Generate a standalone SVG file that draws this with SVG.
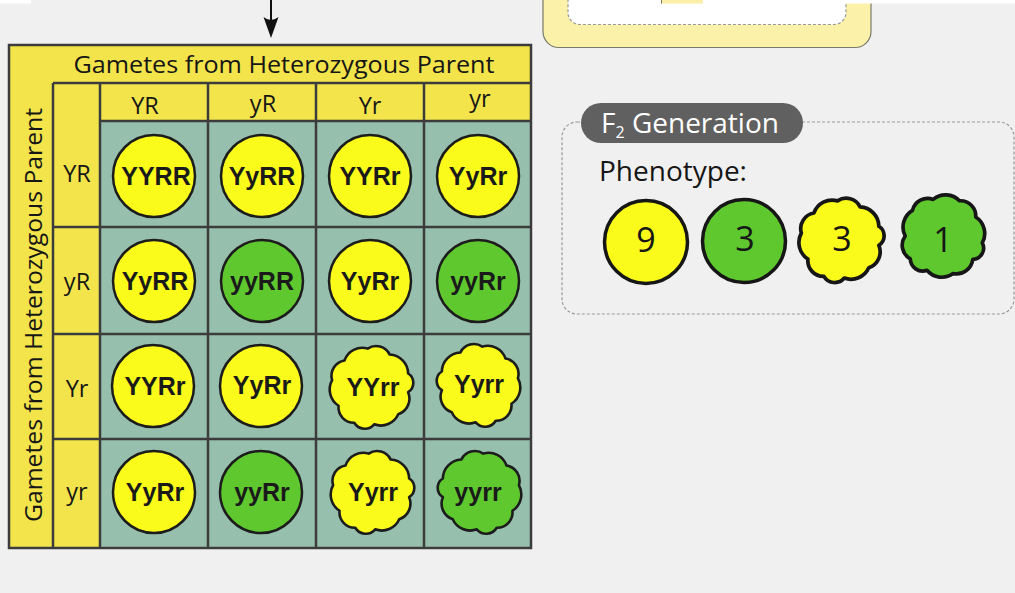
<svg xmlns="http://www.w3.org/2000/svg" xmlns:xlink="http://www.w3.org/1999/xlink" width="1015" height="593" viewBox="0 0 1015 593">
  <style>
    .bg{fill:#f0f0f0}
    .hdr{fill:#f2e44a}
    .teal{fill:#97bfad}
    .ln{stroke:#3c3c3c;stroke-width:2.5;fill:none}
    .pea{stroke:#1c1c1c;stroke-width:2.5;stroke-linejoin:round}
    .pheno{stroke:#161616;stroke-width:3.5;stroke-linejoin:round}
    .y{fill:#fbfb1b}
    .g{fill:#5fc82f}
    .geno{font-family:"Liberation Sans",Arial,sans-serif;font-weight:bold;font-size:25px;text-anchor:middle;fill:#1a1a1a}
    .lbl{font-family:"Open Sans","Noto Sans",sans-serif;font-size:23.5px;text-anchor:middle;fill:#161616}
    .title{font-family:"Open Sans","Noto Sans",sans-serif;font-size:24px;fill:#161616}
    .num{font-family:"Open Sans","Noto Sans",sans-serif;font-size:34px;text-anchor:middle;fill:#161616}
    .f2{font-family:"Open Sans","Noto Sans",sans-serif;font-size:28px}
  </style>
  <defs>
    <!-- wrinkled pea outline, centred on 0,0 -->
    <path id="wrinkle" d="M-3.2,-36.9 A14.6,14.6 0 0 1 18,-31.2 A18.6,18.6 0 0 1 35.7,-13 A10.6,10.6 0 0 1 35.7,5 A15.9,15.9 0 0 1 26.2,26.2 A18.3,18.3 0 0 1 3.1,35.9 A11.8,11.8 0 0 1 -16.1,34.4 A14.9,14.9 0 0 1 -31.2,18 A18.6,18.6 0 0 1 -37.4,-6.6 A14.9,14.9 0 0 1 -25.5,-25.5 A18.1,18.1 0 0 1 -3.2,-36.9 Z"/>
  </defs>

  <rect class="bg" x="0" y="0" width="1015" height="593"/>

  <!-- upper panel, cut by the top edge -->
  <g id="upper-panel">
    <rect x="543" y="-30" width="328" height="77.5" rx="16" fill="#fcf1a9" stroke="#7a7a6a" stroke-width="1.2"/>
    <rect x="568" y="-30" width="278" height="54.5" rx="12" fill="#ffffff" stroke="#9a9a9a" stroke-width="1.2" stroke-dasharray="3 2"/>
    <rect x="661" y="0" width="42" height="3.5" fill="#fbeea6"/>
    <line x1="661.5" y1="0" x2="661.5" y2="3.5" stroke="#7a7a6a" stroke-width="1"/>
    <rect x="703" y="0" width="312" height="3.5" fill="#ffffff"/>
    <rect x="0" y="0" width="31" height="3.5" fill="#ffffff"/>
  </g>

  <!-- connector into the square -->
  <g id="connectors">
    <line x1="271" y1="0" x2="271" y2="26" stroke="#111" stroke-width="2"/>
    <path d="M271,38 L263.5,17 Q271,23 278.5,17 Z" fill="#111"/>
  </g>

  <!-- Punnett square frame -->
  <g id="square-frame">
    <rect class="hdr" x="9" y="45" width="522" height="503"/>
    <rect class="teal" x="100" y="121" width="431" height="427"/>
    <path class="ln" d="M53,83 H531 M53,83 V548 M100,121 H531 M100,83 V548 M53,227 H531 M53,334 H531 M53,439 H531 M208,83 V548 M316,83 V548 M424,83 V548"/>
    <rect class="ln" x="9" y="45" width="522" height="503" stroke="#404040"/>
    <text class="title" x="284" y="73" text-anchor="middle" textLength="421" lengthAdjust="spacingAndGlyphs">Gametes from Heterozygous Parent</text>
    <text class="title" transform="translate(42,315) rotate(-90)" text-anchor="middle" textLength="414" lengthAdjust="spacingAndGlyphs">Gametes from Heterozygous Parent</text>
  </g>

  <!-- column gametes -->
  <g id="col-gametes">
    <text class="lbl" x="145" y="114">YR</text>
    <text class="lbl" x="263" y="112">yR</text>
    <text class="lbl" x="370" y="114">Yr</text>
    <text class="lbl" x="480" y="107">yr</text>
  </g>

  <!-- row gametes -->
  <g id="row-gametes">
    <text class="lbl" x="77" y="182">YR</text>
    <text class="lbl" x="77" y="290">yR</text>
    <text class="lbl" x="77" y="397">Yr</text>
    <text class="lbl" x="77" y="500">yr</text>
  </g>

  <!-- offspring, row YR -->
  <g id="cell-YYRR"><circle class="pea y" cx="154" cy="176" r="41"/><text class="geno" x="156" y="185">YYRR</text></g>
  <g id="cell-YyRR-1"><circle class="pea y" cx="262" cy="176" r="41"/><text class="geno" x="262" y="185">YyRR</text></g>
  <g id="cell-YYRr-1"><circle class="pea y" cx="370" cy="176" r="41"/><text class="geno" x="370" y="185">YYRr</text></g>
  <g id="cell-YyRr-1"><circle class="pea y" cx="478" cy="176" r="41"/><text class="geno" x="478" y="185">YyRr</text></g>

  <!-- offspring, row yR -->
  <g id="cell-YyRR-2"><circle class="pea y" cx="154" cy="281" r="41"/><text class="geno" x="155" y="290">YyRR</text></g>
  <g id="cell-yyRR"><circle class="pea g" cx="262" cy="281" r="41"/><text class="geno" x="262" y="290">yyRR</text></g>
  <g id="cell-YyRr-2"><circle class="pea y" cx="370" cy="281" r="41"/><text class="geno" x="370" y="290">YyRr</text></g>
  <g id="cell-yyRr-1"><circle class="pea g" cx="478" cy="281" r="41"/><text class="geno" x="478" y="290">yyRr</text></g>

  <!-- offspring, row Yr -->
  <g id="cell-YYRr-2"><circle class="pea y" cx="153" cy="386" r="41"/><text class="geno" x="155" y="395">YYRr</text></g>
  <g id="cell-YyRr-3"><circle class="pea y" cx="261" cy="386" r="41"/><text class="geno" x="262" y="394">YyRr</text></g>
  <g id="cell-YYrr"><use href="#wrinkle" xlink:href="#wrinkle" class="pea y" transform="translate(371,387) scale(1.04)"/><text class="geno" x="373" y="396">YYrr</text></g>
  <g id="cell-Yyrr-1"><use href="#wrinkle" xlink:href="#wrinkle" class="pea y" transform="translate(479,385) scale(-1.04,1.04)"/><text class="geno" x="479" y="393">Yyrr</text></g>

  <!-- offspring, row yr -->
  <g id="cell-YyRr-4"><circle class="pea y" cx="154" cy="492" r="41"/><text class="geno" x="155" y="501">YyRr</text></g>
  <g id="cell-yyRr-2"><circle class="pea g" cx="261" cy="492" r="41"/><text class="geno" x="262" y="501">yyRr</text></g>
  <g id="cell-Yyrr-2"><use href="#wrinkle" xlink:href="#wrinkle" class="pea y" transform="translate(372,492) scale(1.04)"/><text class="geno" x="373" y="501">Yyrr</text></g>
  <g id="cell-yyrr"><use href="#wrinkle" xlink:href="#wrinkle" class="pea g" transform="translate(480,492) scale(-1.04,1.04)"/><text class="geno" x="478" y="501">yyrr</text></g>

  <!-- F2 generation summary -->
  <g id="f2-panel">
    <rect x="562" y="122" width="452" height="192" rx="15" fill="none" stroke="#9a9a9a" stroke-width="1.2" stroke-dasharray="3 2"/>
    <rect x="581" y="103" width="222" height="40" rx="20" fill="#606060"/>
    <text class="f2" x="601" y="133" fill="#ffffff">F<tspan font-size="16" dy="5">2</tspan><tspan dy="-5"> Generation</tspan></text>
    <text class="f2" x="599" y="181" fill="#161616">Phenotype:</text>
  </g>
  <g id="pheno-round-yellow"><circle class="pheno y" cx="646" cy="242" r="41.5"/><text class="num" x="646" y="252">9</text></g>
  <g id="pheno-round-green"><circle class="pheno g" cx="744" cy="241" r="41.5"/><text class="num" x="745" y="251">3</text></g>
  <g id="pheno-wrinkled-yellow"><use href="#wrinkle" xlink:href="#wrinkle" class="pheno y" transform="translate(841,240) scale(1.06)"/><text class="num" x="842" y="251">3</text></g>
  <g id="pheno-wrinkled-green"><use href="#wrinkle" xlink:href="#wrinkle" class="pheno g" transform="translate(943,236) rotate(30) scale(1.05)"/><text class="num" x="943" y="252">1</text></g>
</svg>
